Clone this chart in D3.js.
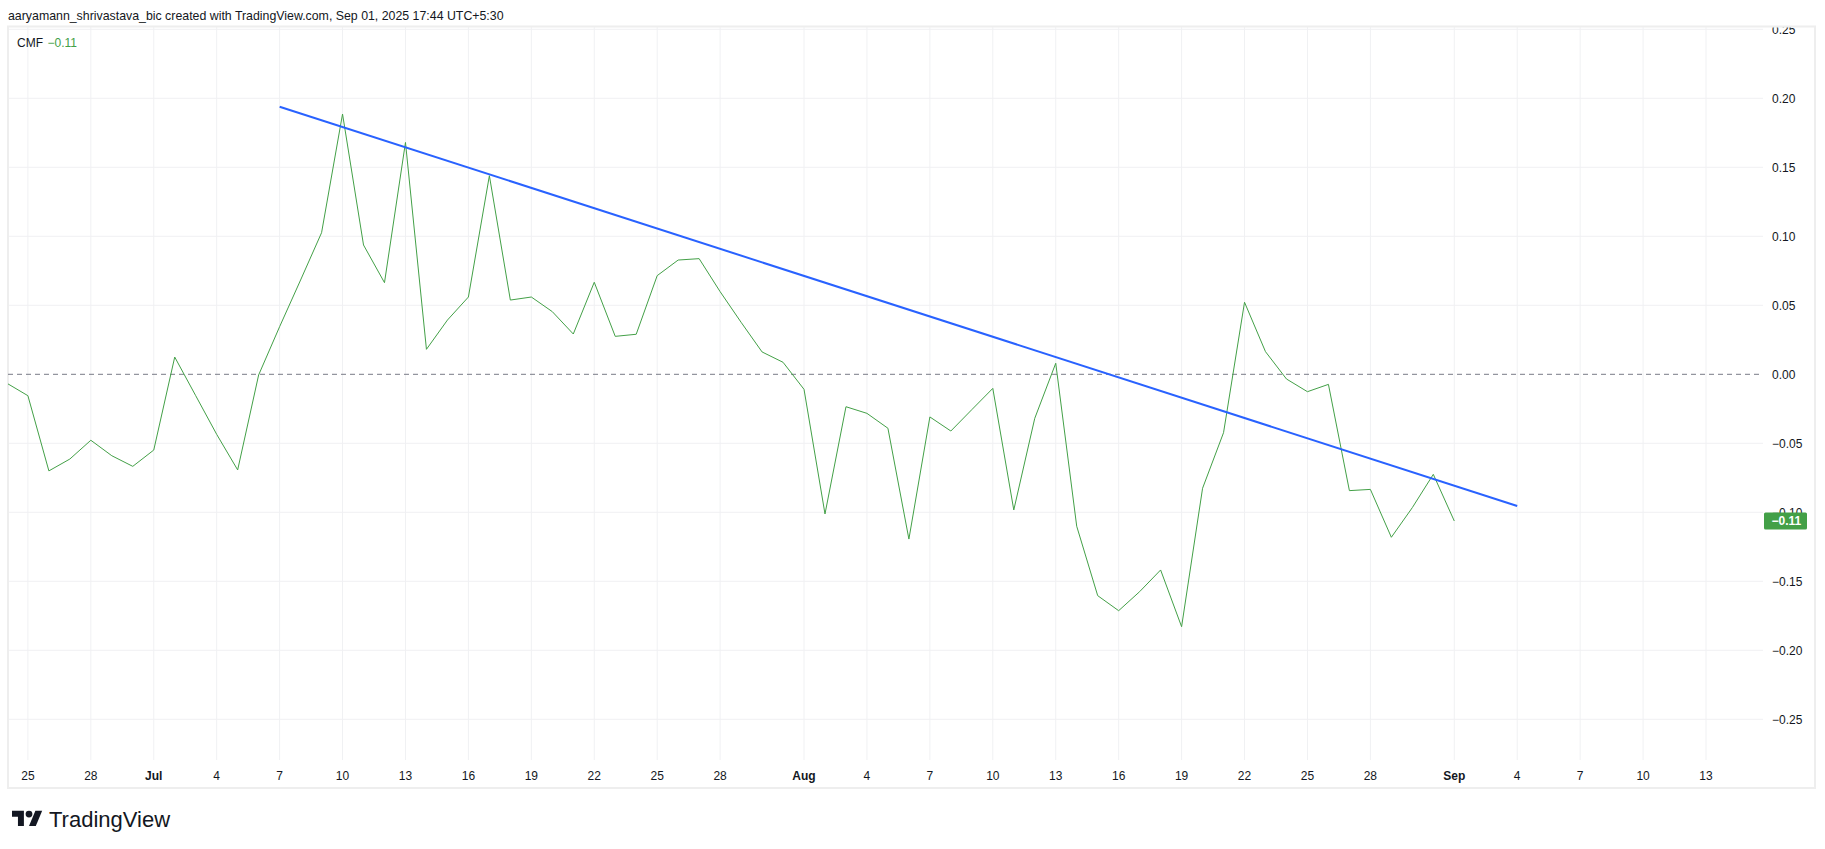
<!DOCTYPE html>
<html>
<head>
<meta charset="utf-8">
<script src="https://cdn.jsdelivr.net/npm/d3@7"></script>
<style>
  html, body { margin: 0; padding: 0; background: #ffffff; }
  svg { display: block; }
  text { font-family: "Liberation Sans", Arial, sans-serif; }
</style>
</head>
<body>
<svg id="chart" width="1825" height="849"></svg>
<script>
// ---------------- DATA ----------------
const dates = [
  "2025-06-24","2025-06-25","2025-06-26","2025-06-27","2025-06-28","2025-06-29","2025-06-30",
  "2025-07-01","2025-07-02","2025-07-03","2025-07-04","2025-07-05","2025-07-06","2025-07-07",
  "2025-07-08","2025-07-09","2025-07-10","2025-07-11","2025-07-12","2025-07-13","2025-07-14",
  "2025-07-15","2025-07-16","2025-07-17","2025-07-18","2025-07-19","2025-07-20","2025-07-21",
  "2025-07-22","2025-07-23","2025-07-24","2025-07-25","2025-07-26","2025-07-27","2025-07-28",
  "2025-07-29","2025-07-30","2025-07-31","2025-08-01","2025-08-02","2025-08-03","2025-08-04",
  "2025-08-05","2025-08-06","2025-08-07","2025-08-08","2025-08-09","2025-08-10","2025-08-11",
  "2025-08-12","2025-08-13","2025-08-14","2025-08-15","2025-08-16","2025-08-17","2025-08-18",
  "2025-08-19","2025-08-20","2025-08-21","2025-08-22","2025-08-23","2025-08-24","2025-08-25",
  "2025-08-26","2025-08-27","2025-08-28","2025-08-29","2025-08-30","2025-08-31","2025-09-01"
];
const cmfValues = [
  -0.0065,-0.0155,-0.0700,-0.0614,-0.0478,-0.0590,-0.0667,
  -0.0549, 0.0125,-0.0155,-0.0435,-0.0693,-0.0005, 0.0345,
   0.0683, 0.1026, 0.1886, 0.0937, 0.0664, 0.1680, 0.0181,
   0.0393, 0.0560, 0.1439, 0.0538, 0.0560, 0.0454, 0.0292,
   0.0667, 0.0275, 0.0290, 0.0715, 0.0828, 0.0838, 0.0599,
   0.0377, 0.0162, 0.0087,-0.0109,-0.1012,-0.0235,-0.0283,
  -0.0391,-0.1194,-0.0309,-0.0411,-0.0256,-0.0102,-0.0983,
  -0.0319, 0.0080,-0.1101,-0.1604,-0.1713,-0.1575,-0.1418,
  -0.1829,-0.0826,-0.0423, 0.0522, 0.0164,-0.0034,-0.0126,
  -0.0073,-0.0843,-0.0834,-0.1181,-0.0966,-0.0725,-0.1063
];
const trendDates = ["2025-07-07", "2025-09-04"];
const trendValues = [0.1939, -0.0954];

const tickDates = [
  "2025-06-25","2025-06-28","2025-07-01","2025-07-04","2025-07-07","2025-07-10","2025-07-13",
  "2025-07-16","2025-07-19","2025-07-22","2025-07-25","2025-07-28","2025-08-01","2025-08-04",
  "2025-08-07","2025-08-10","2025-08-13","2025-08-16","2025-08-19","2025-08-22","2025-08-25",
  "2025-08-28","2025-09-01","2025-09-04","2025-09-07","2025-09-10","2025-09-13"
];
const tickLabels = [
  "25","28","Jul","4","7","10","13","16","19","22","25","28","Aug","4",
  "7","10","13","16","19","22","25","28","Sep","4","7","10","13"
];
const yTicks = [0.25, 0.20, 0.15, 0.10, 0.05, 0.00, -0.05, -0.10, -0.15, -0.20, -0.25];
const lastValueLabel = "\u22120.11";
const headerText = "aaryamann_shrivastava_bic created with TradingView.com, Sep 01, 2025 17:44 UTC+5:30";
const indicatorName = "CMF";

// ---------------- LAYOUT ----------------
const paneL = 8, paneT = 26.5, plotR = 1763, plotB = 760, paneR = 1815, paneB = 788;
const parse = d3.utcParse("%Y-%m-%d");
const fmt = v => (v < 0 ? "\u2212" : "") + Math.abs(v).toFixed(2);

const x = d3.scaleUtc()
  .domain([parse("2025-06-25"), parse("2025-09-13")])
  .range([27.9, 1706]);
const y = d3.scaleLinear().domain([0.25, -0.25]).range([29.3, 719.3]);

const svg = d3.select("#chart");
svg.append("rect").attr("width", 1825).attr("height", 849).attr("fill", "#ffffff");

// header
svg.append("text").attr("x", 8).attr("y", 19.5)
  .attr("font-size", 12.35).attr("fill", "#131722").text(headerText);

// clip
svg.append("defs").append("clipPath").attr("id", "plotClip")
  .append("rect").attr("x", paneL).attr("y", paneT).attr("width", plotR - paneL).attr("height", plotB - paneT);
svg.select("defs").append("clipPath").attr("id", "axisClip")
  .append("rect").attr("x", plotR).attr("y", paneT + 1).attr("width", paneR - plotR).attr("height", plotB - paneT);

// grid
const grid = svg.append("g");
grid.selectAll("line.v").data(tickDates).join("line")
  .attr("x1", d => x(parse(d))).attr("x2", d => x(parse(d)))
  .attr("y1", paneT).attr("y2", plotB)
  .attr("stroke", "#f0f1f3").attr("stroke-width", 1);
grid.selectAll("line.h").data(yTicks.filter(v => v !== 0)).join("line")
  .attr("x1", paneL).attr("x2", plotR)
  .attr("y1", d => y(d)).attr("y2", d => y(d))
  .attr("stroke", "#f0f1f3").attr("stroke-width", 1);

// pane border
svg.append("rect").attr("x", paneL).attr("y", paneT).attr("width", paneR - paneL).attr("height", paneB - paneT)
  .attr("fill", "none").attr("stroke", "#eeeeee").attr("stroke-width", 2);

const plot = svg.append("g").attr("clip-path", "url(#plotClip)");

// zero line
plot.append("line").attr("x1", paneL).attr("x2", plotR)
  .attr("y1", y(0)).attr("y2", y(0))
  .attr("stroke", "#787b86").attr("stroke-width", 1).attr("stroke-dasharray", "5,4");

// CMF line
const series = dates.map((d, i) => ({ date: parse(d), value: cmfValues[i] }));
plot.append("path").datum(series)
  .attr("fill", "none").attr("stroke", "#43a047").attr("stroke-width", 1)
  .attr("d", d3.line().x(d => x(d.date)).y(d => y(d.value)));

// trend line
const trend = trendDates.map((d, i) => ({ date: parse(d), value: trendValues[i] }));
plot.append("path").datum(trend)
  .attr("fill", "none").attr("stroke", "#2962ff").attr("stroke-width", 2)
  .attr("d", d3.line().x(d => x(d.date)).y(d => y(d.value)));

// price axis labels
const yAxisG = svg.append("g").attr("clip-path", "url(#axisClip)");
yAxisG.selectAll("text").data(yTicks).join("text")
  .attr("x", 1772).attr("y", d => y(d)).attr("dy", "0.35em")
  .attr("font-size", 12).attr("fill", "#131722").text(d => fmt(d));

// last value label
const lastV = cmfValues[cmfValues.length - 1];
svg.append("rect").attr("x", 1764).attr("y", y(lastV) - 8.5).attr("width", 43).attr("height", 17)
  .attr("rx", 1.5).attr("fill", "#43a047");
svg.append("text").attr("x", 1771.5).attr("y", y(lastV)).attr("dy", "0.36em")
  .attr("font-size", 12).attr("font-weight", "bold").attr("fill", "#ffffff").text(lastValueLabel);

// time axis labels
svg.append("g").selectAll("text").data(tickDates).join("text")
  .attr("x", d => x(parse(d))).attr("y", 779.5)
  .attr("text-anchor", "middle").attr("font-size", 12)
  .attr("font-weight", (d, i) => /[A-Za-z]/.test(tickLabels[i]) ? "bold" : "normal")
  .attr("fill", "#131722").text((d, i) => tickLabels[i]);

// legend
svg.append("text").attr("x", 17).attr("y", 46.5).attr("font-size", 12).attr("fill", "#131722").text(indicatorName);
svg.append("text").attr("x", 47.5).attr("y", 46.5).attr("font-size", 12).attr("fill", "#43a047").text(lastValueLabel);

// TradingView logo
const logo = svg.append("g").attr("transform", "translate(12,807.3) scale(0.85)");
logo.append("path").attr("d", "M14 22H7V11H0V4h14v18z").attr("fill", "#131722");
logo.append("path").attr("d", "M28 22h-8l7.5-18h8L28 22z").attr("fill", "#131722");
logo.append("circle").attr("cx", 20).attr("cy", 8).attr("r", 4).attr("fill", "#131722");
svg.append("text").attr("x", 49).attr("y", 826.5)
  .attr("font-family", "Roboto, sans-serif").attr("font-size", 22).attr("font-weight", 500)
  .attr("fill", "#131722").text("TradingView");
</script>
</body>
</html>
